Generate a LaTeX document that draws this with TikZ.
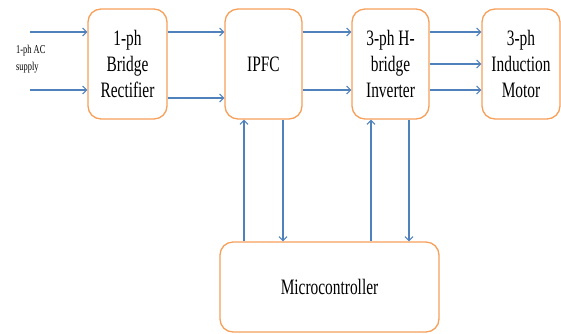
\documentclass[tikz,border=0pt]{standalone}
\usepackage{fontspec}
\setmainfont{Liberation Serif}[FakeStretch=0.7]
\usetikzlibrary{arrows.meta}
\definecolor{boxorange}{RGB}{247,160,90}
\definecolor{lineblue}{RGB}{79,129,189}
\begin{document}
\begin{tikzpicture}[x=1pt,y=-1pt,
  blk/.style={draw=boxorange,line width=1.3pt,rounded corners=13pt,fill=white,
    inner sep=0pt,align=center,font=\fontsize{22}{26}\selectfont,
    minimum width=77pt,minimum height=110pt},
  arr/.style={draw=lineblue,line width=1.1pt,-{Straight Barb[length=4pt,width=8pt]}}]
\useasboundingbox (0,0) rectangle (561,333);
\node[blk,minimum width=79pt] (rect) at (127.5,64) {1-ph\\Bridge\\Rectifier};
\node[blk] (ipfc) at (263.5,64) {IPFC};
\node[blk] (inv) at (390.5,64) {3-ph H-\\bridge\\Inverter};
\node[blk,minimum width=78pt] (mot) at (521,64) {3-ph\\Induction\\Motor};
\node[blk,minimum width=219pt,minimum height=90pt] (mc) at (329.5,287) {Microcontroller};
\node[anchor=west,align=left,inner sep=0pt,font=\fontsize{12}{17}\selectfont] (ac) at (16,59) {1-ph AC\\supply};
% levels
\coordinate (a1) at (30,32);
\coordinate (a2) at (30,90);
\coordinate (b2) at (0,98);
\coordinate (c3) at (0,64);
\coordinate (v1) at (244,0);
\coordinate (v2) at (283,0);
\coordinate (v3) at (371,0);
\coordinate (v4) at (409,0);
% connectors
\draw[arr] (a1) -- (rect.west |- a1);
\draw[arr] (a2) -- (rect.west |- a2);
\draw[arr] (rect.east |- a1) -- (ipfc.west |- a1);
\draw[arr] (rect.east |- b2) -- (ipfc.west |- b2);
\draw[arr] (ipfc.east |- a1) -- (inv.west |- a1);
\draw[arr] (ipfc.east |- a2) -- (inv.west |- a2);
\draw[arr] (inv.east |- a1) -- (mot.west |- a1);
\draw[arr] (inv.east |- c3) -- (mot.west |- c3);
\draw[arr] (inv.east |- a2) -- (mot.west |- a2);
\draw[arr] (mc.north -| v1) -- (ipfc.south -| v1);
\draw[arr] (ipfc.south -| v2) -- (mc.north -| v2);
\draw[arr] (mc.north -| v3) -- (inv.south -| v3);
\draw[arr] (inv.south -| v4) -- (mc.north -| v4);
\end{tikzpicture}
\end{document}
